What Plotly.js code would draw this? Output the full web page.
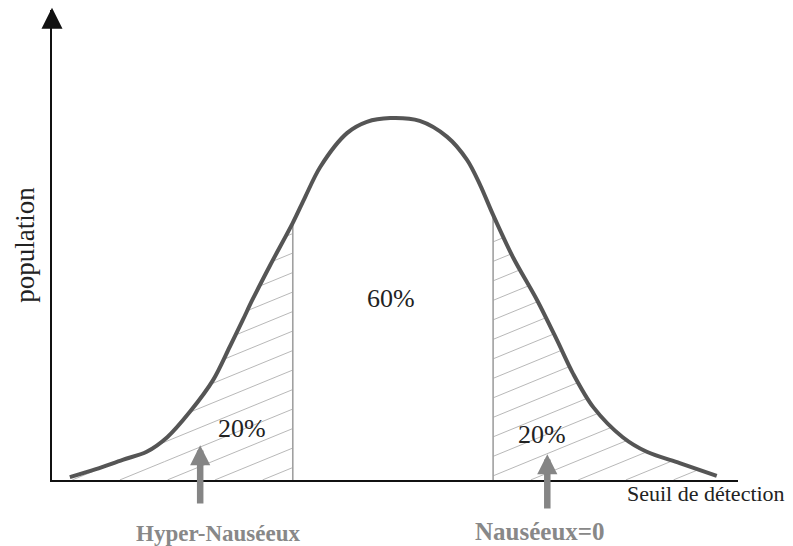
<!DOCTYPE html>
<html>
<head>
<meta charset="utf-8">
<script src="https://cdn.plot.ly/plotly-3.0.1.min.js"></script>
<style>html,body{margin:0;padding:0;background:#fff;}#chart{width:793px;height:546px;}</style>
</head>
<body>
<div id="chart"></div>
<script>
// Distribution curve (x: detection threshold scale, y: population)
const seuil = [2.6, 6.4, 10.3, 13.8, 16.8, 20.1, 23.5, 25.9, 27.8, 29.2, 31.8, 35.1, 36.9, 39.1, 43.0, 45.9, 49.3, 53.6, 57.6, 60.5, 62.4, 64.3, 67.2, 70.7, 73.6, 75.9, 78.9, 83.2, 86.7, 91.5, 96.9];
const population = [0.6, 2.3, 4.3, 6.0, 9.1, 14.5, 21.3, 28.3, 34.0, 38.3, 45.7, 54.7, 60.2, 66.6, 73.8, 76.2, 77.0, 76.4, 73.0, 68.1, 62.8, 56.4, 47.4, 38.3, 29.8, 22.8, 15.5, 9.1, 6.0, 3.6, 0.9];
// Thresholds splitting the population
const thresholds = [35.1, 64.3];
const shareLabels = ['20%', '60%', '20%'];
const groupLabels = ['Hyper-Nauséeux', 'Nauséeux=0'];
const axisLabels = {x: 'Seuil de détection', y: 'population'};

const W = 793, H = 546;
const M = {l: 52, r: 55, t: 10, b: 66};
const pw = W - M.l - M.r, ph = H - M.t - M.b;
const XR = [0, 100], YR = [0, 100];

function curveAt(u) {
  if (u <= seuil[0] || u >= seuil[seuil.length - 1]) return 0;
  for (let i = 1; i < seuil.length; i++) {
    if (u <= seuil[i]) {
      const t = (u - seuil[i - 1]) / (seuil[i] - seuil[i - 1]);
      return population[i - 1] + t * (population[i] - population[i - 1]);
    }
  }
  return 0;
}

// hatch lines (decorative fill), slope & spacing defined in pixels
const pxPerU = pw / (XR[1] - XR[0]), pxPerV = ph / (YR[1] - YR[0]);
const slope = 0.41 * pxPerU / pxPerV;      // in data units
const spacing = 19.5 / pxPerV;             // vertical spacing in data units
function hatch(a, b, offset) {
  const hx = [], hy = [];
  for (let c = -slope * 100 + offset; c < 100; c += spacing) {
    let inside = false;
    for (let u = a; u <= b + 1e-9; u += 0.05) {
      const v = c + slope * u;
      const ok = v >= 0 && v <= curveAt(u) - 0.3;
      if (ok) { hx.push(u); hy.push(v); inside = true; }
      else if (inside) { hx.push(null); hy.push(null); inside = false; }
    }
    if (inside) { hx.push(null); hy.push(null); }
  }
  return {hx, hy};
}
const h1 = hatch(seuil[0], thresholds[0], 0);
const h2 = hatch(thresholds[1], seuil[seuil.length - 1], 1.5);

const traces = [
  {x: h1.hx, y: h1.hy, mode: 'lines', line: {color: '#b0b0b0', width: 0.9}, hoverinfo: 'skip', showlegend: false},
  {x: h2.hx, y: h2.hy, mode: 'lines', line: {color: '#b0b0b0', width: 0.9}, hoverinfo: 'skip', showlegend: false},
  {x: [thresholds[0], thresholds[0], null, thresholds[1], thresholds[1]],
   y: [0, curveAt(thresholds[0]), null, 0, curveAt(thresholds[1])],
   mode: 'lines', line: {color: '#a0a0a0', width: 1.6}, hoverinfo: 'skip', showlegend: false},
  {x: seuil, y: population, mode: 'lines', line: {color: '#555555', width: 4, shape: 'spline', smoothing: 0.9}, showlegend: false}
];

const serif = "'Liberation Serif', 'Times New Roman', serif";
const layout = {
  width: W, height: H, margin: M,
  paper_bgcolor: '#fff', plot_bgcolor: '#fff',
  showlegend: false,
  xaxis: {range: XR, showline: true, linecolor: '#111', linewidth: 2, showgrid: false, zeroline: false, showticklabels: false, ticks: ''},
  yaxis: {range: YR, showline: true, linecolor: '#111', linewidth: 2, showgrid: false, zeroline: false, showticklabels: false, ticks: '',
          title: {text: axisLabels.y, font: {family: serif, size: 27, color: '#222'}, standoff: 8}},
  annotations: [
    // y axis arrowhead
    {x: 0, y: 100.5, ax: 0, ay: 96, xref: 'x', yref: 'y', axref: 'x', ayref: 'y', text: '', showarrow: true,
     arrowhead: 2, arrowsize: 2.1, arrowwidth: 2, arrowcolor: '#111'},
    {x: 49.4, y: 38.7, xref: 'x', yref: 'y', yanchor: 'middle', text: shareLabels[1], showarrow: false, font: {family: serif, size: 26, color: '#222'}},
    {x: 27.7, y: 10.9, xref: 'x', yref: 'y', yanchor: 'middle', text: shareLabels[0], showarrow: false, font: {family: serif, size: 26, color: '#222'}},
    {x: 71.4, y: 9.6, xref: 'x', yref: 'y', yanchor: 'middle', text: shareLabels[2], showarrow: false, font: {family: serif, size: 26, color: '#222'}},
    {x: 95.3, y: -0.028, xref: 'x', yref: 'paper', xanchor: 'center', yanchor: 'middle', text: axisLabels.x, showarrow: false, font: {family: serif, size: 22, color: '#222'}},
    // group arrows
    {x: 21.6, y: 7.4, ax: 21.6, ay: -5.3, xref: 'x', yref: 'y', axref: 'x', ayref: 'y', text: '', showarrow: true,
     arrowhead: 2, arrowsize: 0.62, arrowwidth: 6.5, arrowcolor: '#858585'},
    {x: 72.2, y: 5.5, ax: 72.2, ay: -6.4, xref: 'x', yref: 'y', axref: 'x', ayref: 'y', text: '', showarrow: true,
     arrowhead: 2, arrowsize: 0.62, arrowwidth: 6.5, arrowcolor: '#858585'},
    {x: 24.2, y: -0.113, xref: 'x', yref: 'paper', xanchor: 'center', yanchor: 'middle', text: '<b>' + groupLabels[0] + '</b>', showarrow: false, font: {family: serif, size: 23, color: '#888'}},
    {x: 71.1, y: -0.11, xref: 'x', yref: 'paper', xanchor: 'center', yanchor: 'middle', text: '<b>' + groupLabels[1] + '</b>', showarrow: false, font: {family: serif, size: 25, color: '#888'}}
  ]
};

Plotly.newPlot('chart', traces, layout, {displayModeBar: false, staticPlot: true});
</script>
</body>
</html>
